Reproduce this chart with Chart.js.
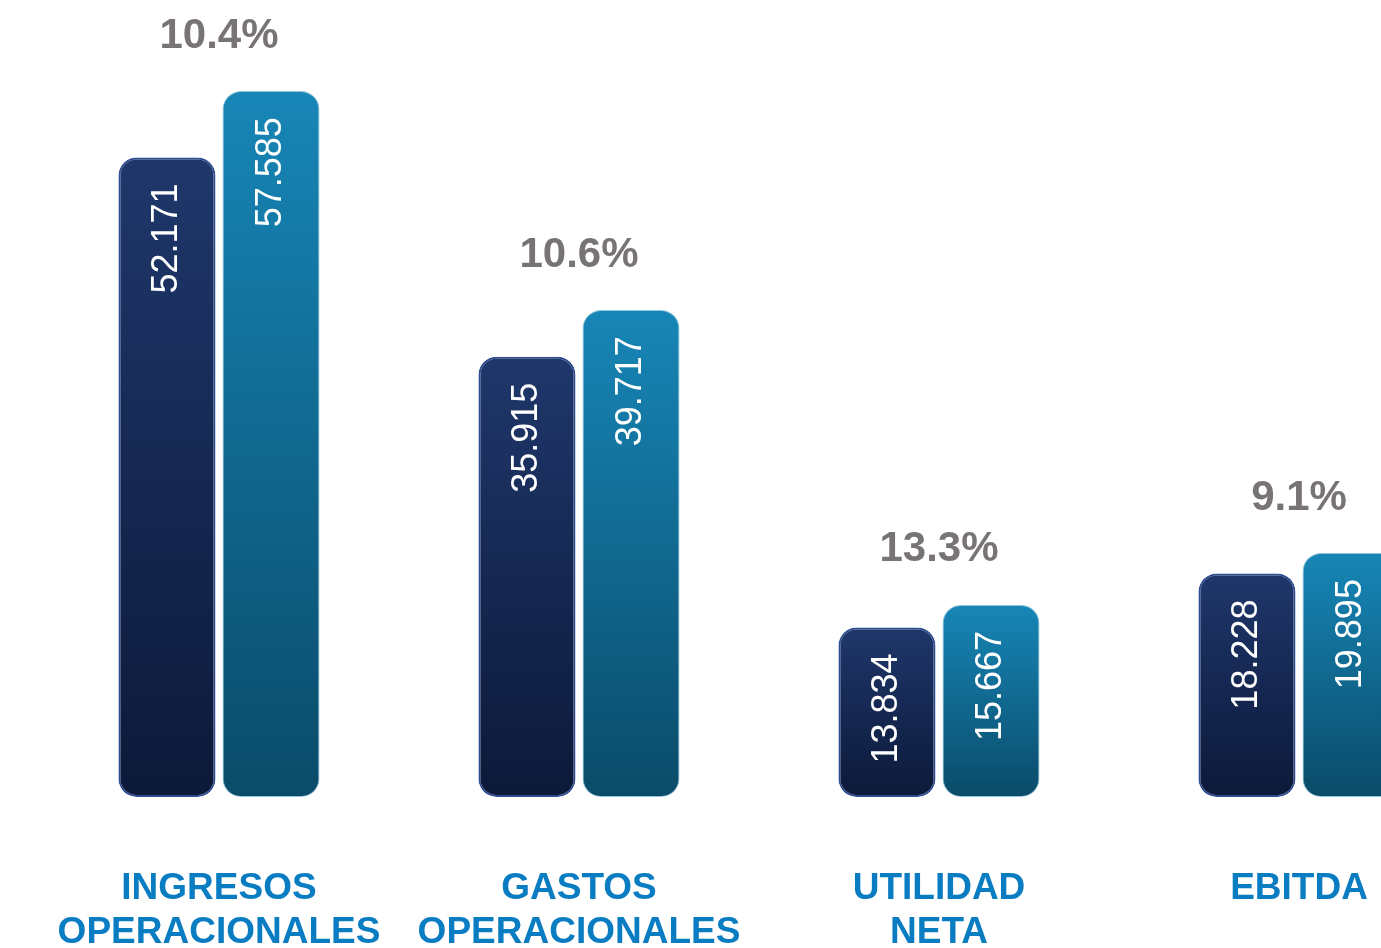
<!DOCTYPE html>
<html>
<head>
<meta charset="utf-8">
<script src="https://cdn.jsdelivr.net/npm/chart.js@4"></script>
<style>
  html, body { margin: 0; padding: 0; background: #ffffff; overflow: hidden; }
  #wrap { position: absolute; left: -100px; top: 0; width: 1600px; height: 1069px; }
</style>
</head>
<body>
<div id="wrap"><canvas id="myChart"></canvas></div>
<script>
// categorias (dos lineas cada una)
let categorias = [
    ["INGRESOS", "OPERACIONALES"],
    ["GASTOS", "OPERACIONALES"],
    ["UTILIDAD", "NETA"],
    ["EBITDA"]
];
// valores de cada serie
let serieAnterior = [52.171, 35.915, 13.834, 18.228];
let serieActual = [57.585, 39.717, 15.667, 19.895];
// variacion porcentual arriba de cada grupo
let variaciones = ["10.4%", "10.6%", "13.3%", "9.1%"];

const FONT = "'Liberation Sans', Arial, sans-serif";

// degradado vertical por barra
function degradado(arriba, abajo) {
    return function (context) {
        let chart = context.chart;
        if (!chart.chartArea || context.raw == null) return arriba;
        let y = chart.scales.y;
        let top = y.getPixelForValue(context.raw);
        let bottom = y.getPixelForValue(0);
        let g = chart.ctx.createLinearGradient(0, top, 0, bottom);
        g.addColorStop(0, arriba);
        g.addColorStop(1, abajo);
        return g;
    };
}

// textos dentro de las barras y porcentajes arriba
const etiquetas = {
    id: "etiquetas",
    afterDatasetsDraw(chart) {
        let ctx = chart.ctx;
        ctx.save();
        // valores rotados
        ctx.fillStyle = "#ffffff";
        ctx.font = "36px " + FONT;
        ctx.textAlign = "right";
        ctx.textBaseline = "middle";
        chart.data.datasets.forEach(function (ds, i) {
            chart.getDatasetMeta(i).data.forEach(function (bar, j) {
                ctx.save();
                ctx.translate(bar.x, bar.y + 26);
                ctx.rotate(-Math.PI / 2);
                ctx.fillText(ds.data[j].toFixed(3), 0, 0);
                ctx.restore();
            });
        });
        // porcentajes
        ctx.fillStyle = "#787473";
        ctx.font = "bold 42px " + FONT;
        ctx.textAlign = "center";
        let m0 = chart.getDatasetMeta(0).data;
        let m1 = chart.getDatasetMeta(1).data;
        variaciones.forEach(function (txt, j) {
            let cx = (m0[j].x + m1[j].x) / 2;
            let top = Math.min(m0[j].y, m1[j].y);
            ctx.fillText(txt, cx, top - 55);
        });
        ctx.restore();
    }
};

let config = {
    type: "bar",
    data: {
        labels: categorias,
        datasets: [
            {
                label: "Anterior",
                data: serieAnterior,
                backgroundColor: degradado("#1f376b", "#0c1939"),
                borderColor: "#2e4e93",
                borderWidth: 2,
                borderRadius: 18,
                borderSkipped: false,
                categoryPercentage: 0.578,
                barPercentage: 0.933
            },
            {
                label: "Actual",
                data: serieActual,
                backgroundColor: degradado("#1786b7", "#0a4b69"),
                borderColor: "#8fc6dc",
                borderWidth: 1,
                borderRadius: 18,
                borderSkipped: false,
                categoryPercentage: 0.578,
                barPercentage: 0.933
            }
        ]
    },
    options: {
        responsive: true,
        maintainAspectRatio: false,
        animation: false,
        layout: { padding: { left: 139, right: 21, top: 37, bottom: 44 } },
        plugins: {
            legend: { display: false },
            tooltip: { enabled: false }
        },
        scales: {
            x: {
                grid: { display: false, drawTicks: false },
                border: { display: false },
                ticks: {
                    autoSkip: false,
                    maxRotation: 0,
                    minRotation: 0,
                    padding: 70,
                    color: "#0a7dc2",
                    font: { family: FONT, size: 37, weight: "bold", lineHeight: 1.19 }
                }
            },
            y: {
                min: 0,
                max: 62,
                display: false
            }
        }
    },
    plugins: [etiquetas]
};

new Chart(document.getElementById("myChart"), config);
</script>
</body>
</html>
